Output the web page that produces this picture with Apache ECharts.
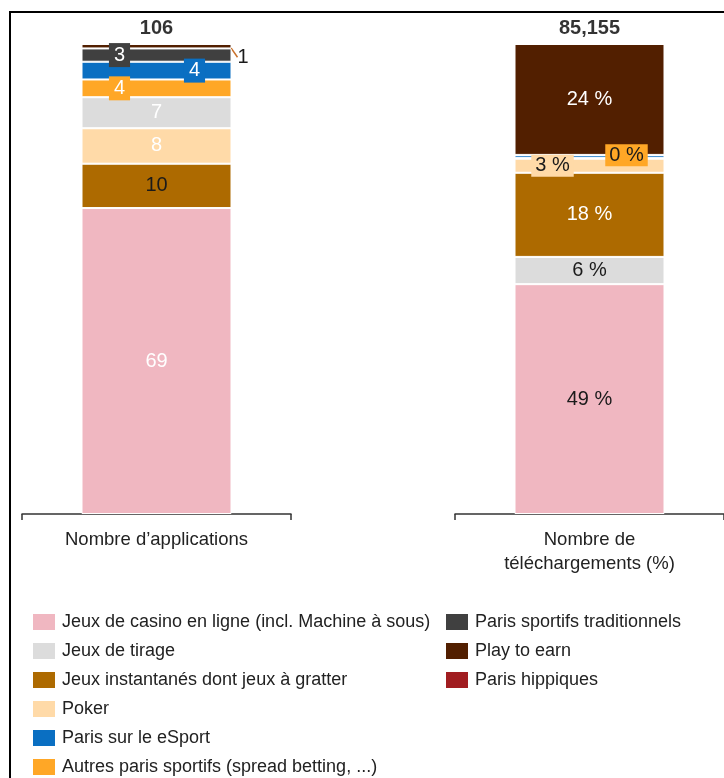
<!DOCTYPE html>
<html>
<head>
<meta charset="utf-8">
<script src="https://cdn.jsdelivr.net/npm/echarts@6/dist/echarts.min.js"></script>
<style>
html, body { margin: 0; padding: 0; background: #fff; overflow: hidden; }
#frame { position: absolute; left: 9px; top: 11px; width: 760px; height: 800px; border-left: 2px solid #000; border-top: 2px solid #000; }
#chart { position: absolute; left: 0; top: 0; width: 724px; height: 778px; }
</style>
</head>
<body>
<div id="frame"></div>
<div id="chart"></div>
<script>
// categories (one bar each)
var categories = ['Nombre d\u2019applications', 'Nombre de\ntéléchargements (%)'];
// series, in legend order
var seriesNames = [
    'Jeux de casino en ligne (incl. Machine à sous)',
    'Jeux de tirage',
    'Jeux instantanés dont jeux à gratter',
    'Poker',
    'Paris sur le eSport',
    'Autres paris sportifs (spread betting, ...)',
    'Paris sportifs traditionnels',
    'Play to earn',
    'Paris hippiques'
];
var colors = ['#f0b7c1', '#dcdcdc', '#ad6a00', '#ffdaa8', '#0a6fc2', '#ffa726', '#404040', '#521f00', '#a11d20'];
// values, same order as seriesNames
var applications = [69, 7, 10, 8, 4, 4, 3, 1, 0];
var downloads = [48.9, 5.8, 17.9, 3.0, 0.6, 0.2, 0, 23.6, 0];
var totals = [106, 85155];
// stacking order, bottom to top
var applicationsOrder = [0, 2, 3, 1, 5, 4, 6, 7, 8];
var downloadsOrder = [0, 1, 2, 3, 5, 4, 6, 7, 8];

var FONT = '"Liberation Sans", Arial, sans-serif';
var DARK = '#1a1a1a';

var leftLabels = {
    0: {color: '#fff'},
    2: {color: DARK},
    3: {color: '#fff'},
    1: {color: '#fff'},
    5: {color: '#fff', backgroundColor: colors[5], padding: [2, 5], offset: [-37, 0]},
    4: {color: '#fff', backgroundColor: colors[4], padding: [2, 5], offset: [38, 0]},
    6: {color: '#fff', backgroundColor: colors[6], padding: [2, 5], offset: [-37, 0]},
    7: {color: DARK, position: 'right', distance: 6}
};
var rightLabels = {
    0: {color: DARK},
    1: {color: DARK},
    2: {color: '#fff'},
    3: {color: DARK, backgroundColor: colors[3], padding: [1, 4], offset: [-37, 0]},
    5: {color: DARK, backgroundColor: colors[5], padding: [1, 4], offset: [37, -3]},
    7: {color: '#fff'}
};

function sum(arr) {
    return arr.reduce(function (a, b) { return a + b; }, 0);
}

function buildBars(g, values, order, labels, fmt) {
    return order.map(function (k) {
        var lab = labels[k];
        var s = {
            name: seriesNames[k],
            type: 'bar',
            xAxisIndex: g,
            yAxisIndex: g,
            stack: 'stack' + g,
            barWidth: 150,
            animation: false,
            data: [values[k]],
            itemStyle: {color: colors[k], borderColor: '#fff', borderWidth: 1},
            label: Object.assign({
                show: !!lab,
                position: 'inside',
                fontFamily: FONT,
                fontSize: 20,
                formatter: fmt
            }, lab || {})
        };
        if (g === 0 && k === 7) {
            s.labelLayout = {dy: 11};
            s.labelLine = {show: true, lineStyle: {color: '#c8702a', width: 1.5}};
        }
        return s;
    });
}

function totalSeries(g, top, total) {
    return {
        type: 'scatter',
        xAxisIndex: g,
        yAxisIndex: g,
        symbolSize: 0,
        animation: false,
        silent: true,
        data: [[0, top]],
        label: {
            show: true,
            position: 'top',
            distance: 6,
            fontFamily: FONT,
            fontSize: 20,
            fontWeight: 'bold',
            color: '#000',
            formatter: function () { return total.toLocaleString('en-US'); }
        }
    };
}

function xAxisFor(g) {
    return {
        type: 'category',
        gridIndex: g,
        data: [categories[g]],
        axisLine: {lineStyle: {color: '#333', width: 1.5}},
        axisTick: {show: true, length: 6, lineStyle: {color: '#333', width: 1.5}},
        axisLabel: {fontFamily: FONT, fontSize: 18.5, color: '#222', margin: 14, lineHeight: 24}
    };
}

function yAxisFor(g, max) {
    return {type: 'value', gridIndex: g, min: 0, max: max, show: false};
}

function legendFor(names, left) {
    return {
        orient: 'vertical',
        left: left,
        top: 607,
        height: 200,
        icon: 'rect',
        itemWidth: 24,
        itemHeight: 18,
        itemGap: 9,
        selectedMode: false,
        data: names,
        textStyle: {fontFamily: FONT, fontSize: 18, color: '#222', padding: [0, 0, 0, 1]}
    };
}

var appsTop = sum(applications);
var dlTop = sum(downloads);

var chart = echarts.init(document.getElementById('chart'));
chart.setOption({
    backgroundColor: 'transparent',
    grid: [
        {left: 22, width: 269, top: 44, height: 470},
        {left: 455, width: 272, top: 44, height: 470}
    ],
    xAxis: [xAxisFor(0), xAxisFor(1)],
    yAxis: [yAxisFor(0, appsTop), yAxisFor(1, dlTop)],
    legend: [
        legendFor(seriesNames.slice(0, 6), 26),
        legendFor(seriesNames.slice(6), 439)
    ],
    series: buildBars(0, applications, applicationsOrder, leftLabels, '{c}')
        .concat(buildBars(1, downloads, downloadsOrder, rightLabels, function (p) {
            return Math.round(p.value) + ' %';
        }))
        .concat([totalSeries(0, appsTop, totals[0]), totalSeries(1, dlTop, totals[1])])
});
</script>
</body>
</html>
